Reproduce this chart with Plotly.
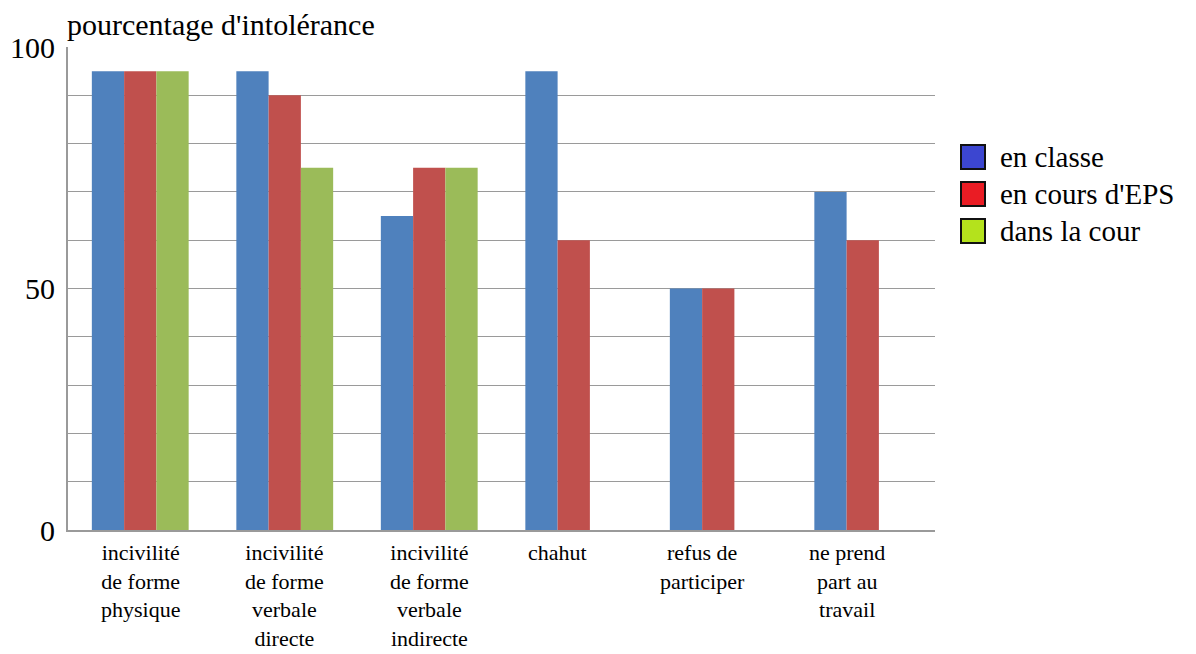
import plotly.graph_objects as go

categories = [
    "incivilité<br>de forme<br>physique",
    "incivilité<br>de forme<br>verbale<br>directe",
    "incivilité<br>de forme<br>verbale<br>indirecte",
    "chahut",
    "refus de<br>participer",
    "ne prend<br>part au<br>travail",
]
series_names = ["en classe", "en cours d'EPS", "dans la cour"]
en_classe = [95, 95, 65, 95, 50, 70]
en_cours_eps = [95, 90, 75, 60, 50, 60]
dans_la_cour = [95, 75, 75, None, None, None]
y_ticks = [0, 50, 100]

bar_colors = ["#4f81bd", "#c0504d", "#9bbb59"]
legend_colors = ["#3c46d0", "#ea1c24", "#b4e21c"]
FONT = "Liberation Serif, Times New Roman, serif"

all_series = [en_classe, en_cours_eps, dans_la_cour]
x_idx = list(range(len(categories)))

fig = go.Figure()
for name, vals, col in zip(series_names, all_series, bar_colors):
    fig.add_trace(go.Bar(x=x_idx, y=vals, name=name,
                         marker=dict(color=col, line=dict(width=0)), showlegend=False))

# page body has an 8px margin, compensate so the plot lands where the reference has it
L, T = 60, 39
PW, PH = 867, 483
fig.update_layout(
    width=1196, height=654,
    margin=dict(l=L, r=1196 - L - PW, t=T, b=654 - T - PH, autoexpand=False),
    plot_bgcolor="white", paper_bgcolor="white",
    barmode="group", bargap=0.33, bargroupgap=0,
    font=dict(family=FONT, color="#000000", size=24),
    showlegend=False,
)
fig.add_annotation(text="pourcentage d'intolérance", xref="paper", yref="paper",
                   x=-0.003, y=1.0, xanchor="left", yanchor="bottom", yshift=4,
                   showarrow=False, font=dict(size=30, family=FONT))

# legend drawn as boxes + labels (reference legend swatches are larger than plotly's)
row_px = 37
sq_px = 24
leg_x0 = (961 - 68) / PW
leg_x1 = (985 - 68) / PW
txt_x = (998 - 68) / PW
first_row_y = (530 - 157) / PH
for k, (name, col) in enumerate(zip(series_names, legend_colors)):
    yc = first_row_y - k * row_px / PH
    fig.add_shape(type="rect", xref="paper", yref="paper",
                  x0=leg_x0, x1=leg_x1,
                  y0=yc - sq_px / 2 / PH, y1=yc + sq_px / 2 / PH,
                  fillcolor=col, line=dict(color="#111111", width=2))
    fig.add_annotation(text=name, xref="paper", yref="paper", x=txt_x, y=yc,
                       xanchor="left", yanchor="middle", showarrow=False,
                       font=dict(size=29, family=FONT))

# category labels, centred under the bars actually drawn in each group
bar_px = PW / len(categories) * (1 - 0.33) / len(all_series)
for i, lab in enumerate(categories):
    n = sum(1 for s in all_series if s[i] is not None)
    fig.add_annotation(text=lab, x=i, y=0, xref="x", yref="y",
                       xanchor="center", yanchor="top", yshift=-8,
                       xshift=-(len(all_series) - n) * bar_px / 2,
                       showarrow=False, align="center",
                       font=dict(size=22, family=FONT))

fig.update_xaxes(
    tickvals=x_idx, showticklabels=False,
    range=[-0.5, len(categories) - 0.5], automargin=False,
    showline=True, linecolor="#9a9a9a", linewidth=2, ticks="", showgrid=False,
)
fig.update_yaxes(
    range=[0, 100], tickvals=y_ticks, ticktext=[str(v) for v in y_ticks],
    showline=True, linecolor="#9a9a9a", linewidth=2, ticks="", automargin=False,
    showgrid=True, gridcolor="#9a9a9a", gridwidth=1,
    minor=dict(dtick=10, showgrid=True, gridcolor="#9a9a9a", gridwidth=1),
    tickfont=dict(size=30, family=FONT), ticklabelstandoff=5, zeroline=False,
)
fig.write_html("out.html")
